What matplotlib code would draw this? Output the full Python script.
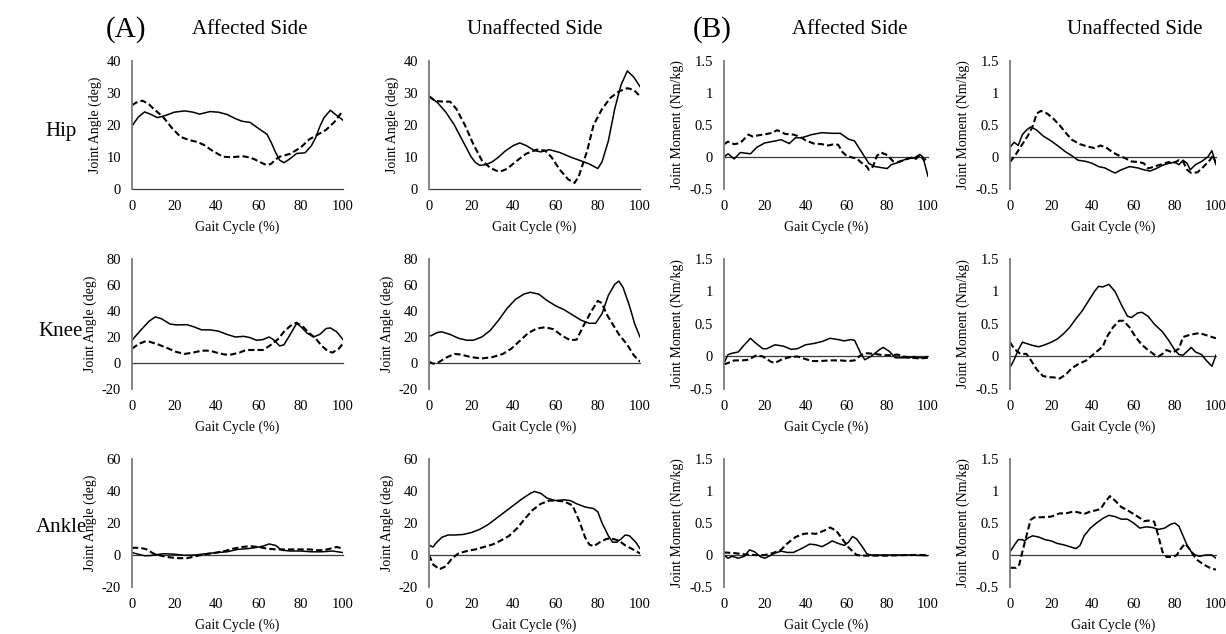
import numpy as np
import matplotlib
matplotlib.use('Agg')
from matplotlib import pyplot as plt

plt.rcParams['font.family'] = ['Liberation Serif', 'DejaVu Serif']
plt.rcParams['axes.unicode_minus'] = False

# (gait cycle %, value); solid and dashed curve per panel
hip_ang_aff_solid = [(0, 19.7), (3, 22.5), (6, 24.1), (9, 23.3), (12, 22.3), (16, 23.0), (20, 24.0), (25, 24.4),
                     (29, 24.0), (32, 23.4), (37, 24.2), (41, 24.0), (45, 23.3), (49, 22.0), (52, 21.2), (56, 20.8),
                     (60, 18.9), (64, 17.1), (66, 14.5), (68, 11.5), (70, 9.0), (72, 8.2), (75, 9.5), (78, 11.1),
                     (82, 11.3), (85, 13.5), (87, 16.0), (89, 19.5), (91, 22.3), (94, 24.6), (97, 23.0), (100, 21.5)]
hip_ang_aff_dash = [(0, 26.2), (2, 27.0), (5, 27.6), (8, 26.5), (10, 25.2), (13, 23.5), (15, 22.3), (19, 19.0),
                    (23, 16.3), (27, 15.3), (31, 14.7), (34, 13.8), (38, 12.0), (43, 10.1), (47, 9.9), (50, 10.1),
                    (53, 10.2), (56, 9.8), (58, 9.3), (62, 8.0), (64, 7.4), (66, 7.9), (68, 9.2), (70, 10.1),
                    (75, 11.0), (80, 13.0), (84, 15.5), (88, 17.0), (92, 18.5), (96, 21.0), (100, 24.5)]
hip_ang_unaff_solid = [(0, 29.0), (4, 27.0), (8, 24.0), (12, 20.0), (16, 15.0), (20, 10.0), (22, 8.3), (24, 7.4),
                       (27, 7.6), (30, 8.5), (33, 10.0), (36, 11.8), (40, 13.6), (43, 14.4), (46, 13.6), (50, 12.0),
                       (53, 11.6), (57, 12.3), (62, 11.4), (67, 10.0), (72, 8.8), (76, 7.8), (80, 6.4), (82, 8.5),
                       (85, 15.0), (88, 25.0), (91, 32.5), (94, 36.9), (97, 35.0), (100, 32.0)]
hip_ang_unaff_dash = [(0, 29.0), (3, 27.5), (7, 27.3), (10, 27.3), (13, 25.0), (17, 20.0), (21, 14.0), (25, 9.0),
                      (29, 6.6), (32, 5.7), (34, 5.5), (37, 6.3), (41, 8.5), (46, 11.0), (51, 12.3), (55, 12.0),
                      (58, 10.0), (62, 6.0), (66, 3.0), (69, 1.9), (71, 4.0), (75, 12.0), (78, 20.0), (82, 25.0),
                      (86, 28.5), (90, 30.5), (94, 31.5), (97, 31.0), (100, 29.0)]

knee_ang_aff_solid = [(0, 17.5), (4, 25.0), (8, 32.0), (11, 35.5), (14, 34.0), (18, 30.0), (21, 29.3), (26, 29.5),
                      (29, 28.0), (33, 25.5), (37, 25.5), (41, 24.5), (45, 22.0), (49, 20.0), (53, 20.5), (56, 19.5),
                      (59, 17.5), (62, 18.0), (65, 20.0), (67, 18.0), (70, 13.1), (72, 14.0), (75, 22.0), (78, 30.4),
                      (80, 28.0), (83, 23.0), (86, 20.0), (89, 22.0), (92, 26.5), (94, 27.0), (97, 24.0), (100, 18.0)]
knee_ang_aff_dash = [(0, 11.0), (3, 14.5), (6, 16.5), (8, 16.5), (12, 14.5), (16, 12.0), (21, 8.5), (25, 7.0),
                     (29, 8.0), (33, 9.5), (37, 9.5), (40, 8.0), (44, 6.5), (47, 6.5), (51, 8.0), (54, 10.0),
                     (58, 10.0), (62, 10.0), (65, 13.0), (69, 18.0), (72, 24.0), (75, 28.5), (78, 31.0), (81, 28.0),
                     (84, 23.0), (87, 19.0), (90, 13.0), (93, 9.0), (95, 8.0), (98, 11.0), (100, 15.0)]
knee_ang_unaff_solid = [(0, 21.0), (1, 21.0), (4, 23.5), (6, 24.0), (10, 22.0), (14, 19.0), (18, 17.5), (21, 17.5),
                        (25, 20.0), (29, 25.0), (33, 33.0), (37, 42.0), (41, 49.0), (45, 53.0), (48, 54.4), (52, 53.0),
                        (56, 48.0), (60, 44.0), (64, 41.0), (68, 37.0), (72, 33.0), (76, 30.5), (79, 30.6), (82, 38.0),
                        (85, 52.0), (88, 60.5), (90, 63.0), (92, 58.0), (95, 44.0), (97.5, 30.0), (100, 20.0)]
knee_ang_unaff_dash = [(0, 1.0), (2, -0.5), (4, 0.0), (8, 4.0), (12, 7.0), (15, 6.5), (20, 4.5), (25, 3.5),
                       (30, 4.5), (35, 7.0), (39, 11.0), (43, 17.0), (47, 23.0), (51, 26.5), (55, 27.5), (59, 26.0),
                       (63, 21.0), (67, 17.5), (70, 18.0), (73, 28.0), (77, 40.0), (80, 47.8), (82, 46.0), (84, 38.0),
                       (87, 30.0), (90, 22.0), (94, 14.0), (97, 6.0), (100, 1.0)]

ankle_ang_aff_solid = [(0, 1.5), (3, 0.5), (6, -0.5), (9, -0.3), (12, 0.3), (15, 0.8), (20, 0.5), (25, -0.2),
                       (30, 0.0), (35, 0.8), (40, 1.5), (45, 2.0), (50, 3.5), (55, 4.0), (58, 4.5), (62, 5.5),
                       (65, 6.9), (68, 6.0), (71, 3.0), (75, 2.5), (80, 2.5), (85, 2.0), (90, 2.0), (95, 2.5), (100, 1.5)]
ankle_ang_aff_dash = [(0, 4.5), (4, 4.5), (7, 3.5), (10, 1.0), (14, -0.5), (18, -1.5), (22, -2.0), (26, -2.0),
                      (31, -0.5), (35, 0.5), (40, 1.5), (44, 2.5), (48, 4.0), (52, 5.0), (56, 5.5), (60, 5.0),
                      (64, 4.0), (68, 3.5), (72, 3.5), (76, 3.5), (80, 3.5), (84, 3.5), (88, 3.0), (91, 3.0),
                      (94, 4.0), (97, 5.0), (100, 4.0)]
ankle_ang_unaff_solid = [(0, 6.0), (2, 5.0), (3, 7.0), (6, 11.0), (9, 12.5), (12, 12.5), (16, 12.8), (20, 14.0),
                         (24, 16.0), (28, 19.0), (32, 23.0), (36, 27.0), (40, 31.0), (44, 35.0), (48, 38.5), (50, 39.7),
                         (53, 38.5), (56, 35.5), (60, 34.0), (64, 34.5), (67, 34.0), (70, 32.0), (74, 30.0), (78, 29.0),
                         (80, 27.0), (82, 20.0), (85, 12.0), (87, 8.0), (89, 8.0), (91, 10.0), (93, 12.5), (95, 12.0),
                         (98, 8.0), (100, 4.0)]
ankle_ang_unaff_dash = [(0, 0.0), (2, -6.0), (5, -8.9), (8, -7.0), (11, -2.0), (14, 1.0), (18, 2.5), (22, 3.5),
                        (26, 5.0), (30, 6.5), (34, 9.0), (38, 12.0), (42, 17.0), (45, 22.0), (49, 28.0), (53, 32.0),
                        (57, 34.0), (60, 34.0), (64, 33.5), (68, 31.0), (71, 22.0), (74, 11.0), (76, 6.5), (78, 5.5),
                        (81, 8.0), (84, 10.0), (86, 10.5), (90, 9.0), (93, 6.0), (96, 4.0), (100, 1.0)]

hip_mom_aff_solid = [(0, 0.0), (2, 0.05), (5, -0.03), (8, 0.07), (13, 0.05), (16, 0.15), (20, 0.22), (25, 0.25),
                     (28, 0.27), (32, 0.21), (35, 0.30), (38, 0.30), (43, 0.35), (48, 0.38), (53, 0.37), (57, 0.37),
                     (61, 0.28), (64, 0.25), (67, 0.10), (71, -0.10), (74, -0.15), (78, -0.17), (80, -0.18),
                     (82, -0.12), (86, -0.08), (90, -0.02), (93, -0.02), (96, 0.04), (97.5, 0.0), (100, -0.30)]
hip_mom_aff_dash = [(0, 0.20), (2, 0.24), (5, 0.20), (8, 0.22), (12, 0.35), (14, 0.32), (17, 0.34), (21, 0.36),
                    (24, 0.38), (26, 0.42), (30, 0.36), (34, 0.35), (37, 0.32), (40, 0.26), (44, 0.21), (48, 0.20),
                    (51, 0.18), (54, 0.20), (56, 0.19), (58, 0.08), (60, 0.02), (63, -0.01), (65, -0.02),
                    (67, -0.08), (70, -0.15), (71, -0.20), (73, -0.15), (75, 0.02), (77, 0.07), (80, 0.03),
                    (83, -0.07), (85, -0.08), (89, -0.04), (92, -0.01), (94, -0.03), (96, 0.03), (98, -0.05), (100, 0.0)]
hip_mom_unaff_solid = [(0, 0.15), (2, 0.23), (4, 0.18), (6, 0.35), (8, 0.42), (10, 0.47), (13, 0.42), (16, 0.33),
                       (20, 0.25), (23, 0.18), (27, 0.08), (30, 0.02), (33, -0.05), (37, -0.07), (40, -0.10),
                       (43, -0.15), (46, -0.17), (49, -0.22), (51, -0.25), (54, -0.20), (58, -0.15), (62, -0.17),
                       (65, -0.20), (68, -0.22), (71, -0.18), (74, -0.13), (77, -0.10), (80, -0.08), (82, -0.12),
                       (84, -0.05), (86, -0.10), (87.5, -0.20), (90, -0.12), (93, -0.07), (96, 0.0), (98, 0.10),
                       (100, -0.12)]
hip_mom_unaff_dash = [(0, -0.08), (3, 0.05), (6, 0.20), (9, 0.35), (11, 0.48), (13, 0.68), (15, 0.72), (18, 0.68),
                      (21, 0.60), (24, 0.50), (27, 0.38), (30, 0.27), (34, 0.20), (38, 0.16), (41, 0.14), (44, 0.18),
                      (47, 0.14), (50, 0.07), (53, 0.02), (56, -0.02), (59, -0.07), (63, -0.08), (65, -0.10),
                      (67, -0.18), (70, -0.15), (73, -0.12), (77, -0.08), (79, -0.10), (82, -0.05), (84, -0.07),
                      (86, -0.20), (88, -0.25), (91, -0.24), (94, -0.15), (97, -0.05), (98.5, 0.02), (100, -0.10)]

knee_mom_aff_solid = [(0, -0.10), (2, 0.03), (4, 0.05), (7, 0.07), (10, 0.18), (13, 0.28), (15, 0.22), (19, 0.12),
                      (21, 0.12), (25, 0.18), (29, 0.16), (33, 0.11), (36, 0.12), (40, 0.18), (44, 0.20), (48, 0.23),
                      (52, 0.28), (56, 0.26), (59, 0.24), (62, 0.26), (64, 0.25), (67, 0.05), (69, -0.05),
                      (72, 0.0), (76, 0.10), (78, 0.14), (81, 0.08), (84, -0.02), (88, -0.02), (91, -0.02),
                      (93, 0.0), (96, -0.02), (100, 0.0)]
knee_mom_aff_dash = [(0, -0.12), (2, -0.10), (5, -0.06), (9, -0.06), (12, -0.05), (16, 0.02), (19, 0.0),
                     (23, -0.08), (25, -0.10), (28, -0.05), (32, -0.01), (36, 0.0), (39, -0.03), (43, -0.07),
                     (47, -0.07), (52, -0.06), (57, -0.06), (61, -0.07), (64, -0.06), (67, 0.02), (70, 0.05),
                     (74, 0.04), (78, 0.02), (82, 0.02), (85, 0.03), (88, 0.0), (92, -0.02), (96, -0.03), (100, -0.02)]
knee_mom_unaff_solid = [(0, -0.17), (2, -0.05), (4, 0.10), (6, 0.22), (8, 0.20), (11, 0.17), (14, 0.15), (17, 0.18),
                        (20, 0.22), (23, 0.27), (26, 0.35), (29, 0.45), (32, 0.58), (35, 0.70), (38, 0.85), (41, 1.00),
                        (43, 1.08), (45, 1.07), (48, 1.11), (51, 1.00), (54, 0.80), (57, 0.62), (59, 0.60), (62, 0.67),
                        (64, 0.68), (67, 0.62), (70, 0.50), (74, 0.38), (77, 0.25), (80, 0.10), (82, 0.03),
                        (84, 0.02), (86, 0.08), (88, 0.14), (90, 0.07), (93, 0.03), (95, -0.05), (98, -0.15), (100, 0.02)]
knee_mom_unaff_dash = [(0, 0.22), (2, 0.12), (5, 0.04), (8, 0.04), (10, -0.05), (13, -0.20), (16, -0.30),
                       (19, -0.32), (21, -0.32), (24, -0.34), (27, -0.28), (30, -0.18), (33, -0.12), (37, -0.06),
                       (40, 0.02), (43, 0.10), (45, 0.15), (47, 0.30), (50, 0.45), (53, 0.55), (55, 0.55), (58, 0.45),
                       (61, 0.30), (64, 0.18), (67, 0.10), (70, 0.03), (72, 0.0), (74, 0.04), (76, 0.10), (79, 0.06),
                       (82, 0.12), (84, 0.30), (87, 0.33), (90, 0.35), (92, 0.36), (95, 0.33), (98, 0.30), (100, 0.28)]

ankle_mom_aff_solid = [(0, 0.0), (2, -0.05), (4, -0.02), (7, -0.05), (10, -0.02), (12.5, 0.08), (15, 0.05),
                       (18, -0.03), (20, -0.05), (22, -0.02), (25, 0.03), (28, 0.06), (31, 0.04), (34, 0.04),
                       (38, 0.10), (42, 0.17), (45, 0.16), (48, 0.13), (51, 0.18), (53, 0.22), (56, 0.18), (59, 0.15),
                       (61, 0.20), (63, 0.29), (65, 0.25), (68, 0.12), (70, 0.02), (72, 0.0), (80, 0.0), (90, 0.0),
                       (100, -0.01)]
ankle_mom_aff_dash = [(0, 0.04), (5, 0.03), (10, 0.01), (15, 0.0), (20, 0.0), (24, 0.03), (28, 0.08), (31, 0.18),
                      (35, 0.28), (39, 0.33), (42, 0.34), (45, 0.33), (49, 0.38), (52, 0.43), (55, 0.38), (58, 0.25),
                      (61, 0.12), (65, 0.0), (68, -0.01), (75, -0.01), (80, -0.01), (90, 0.0), (100, 0.0)]
ankle_mom_unaff_solid = [(0, 0.05), (2, 0.15), (4, 0.24), (6, 0.24), (7, 0.22), (9, 0.27), (11, 0.30), (14, 0.28),
                         (17, 0.24), (20, 0.22), (23, 0.18), (26, 0.16), (29, 0.13), (32, 0.10), (34, 0.15),
                         (36, 0.30), (39, 0.42), (42, 0.50), (45, 0.57), (48, 0.62), (51, 0.60), (54, 0.56),
                         (57, 0.56), (60, 0.50), (63, 0.42), (66, 0.44), (69, 0.43), (72, 0.40), (75, 0.42),
                         (78, 0.48), (80, 0.50), (82, 0.45), (84, 0.30), (86, 0.15), (88, 0.05), (90, 0.0),
                         (92, -0.02), (95, 0.0), (98, 0.0), (100, -0.05)]
ankle_mom_unaff_dash = [(0, -0.20), (3, -0.20), (4.5, -0.15), (6, 0.05), (8, 0.30), (10, 0.55), (12, 0.59),
                        (16, 0.59), (20, 0.60), (24, 0.65), (27, 0.65), (31, 0.68), (34, 0.66), (36, 0.64),
                        (39, 0.68), (42, 0.70), (44, 0.72), (46, 0.82), (48.5, 0.92), (51, 0.85), (54, 0.75),
                        (57, 0.70), (60, 0.64), (63, 0.58), (65, 0.53), (68, 0.54), (70, 0.52), (72, 0.30),
                        (74, 0.05), (76, -0.03), (79, -0.03), (81, 0.0), (83, 0.10), (85, 0.18), (87, 0.10),
                        (89, 0.0), (91, -0.08), (94, -0.15), (97, -0.20), (100, -0.23)]

x_ticks = [0, 20, 40, 60, 80, 100]
ang_ticks = {'Hip': [0, 10, 20, 30, 40], 'Knee': [-20, 0, 20, 40, 60, 80], 'Ankle': [-20, 0, 20, 40, 60]}
mom_ticks = [-0.5, 0, 0.5, 1, 1.5]
mom_tick_labels = ['-0.5', '0', '0.5', '1', '1.5']
joints = ['Hip', 'Knee', 'Ankle']
side_titles = ['Affected Side', 'Unaffected Side', 'Affected Side', 'Unaffected Side']

panels = [
    [hip_ang_aff_solid, hip_ang_aff_dash, hip_ang_unaff_solid, hip_ang_unaff_dash,
     hip_mom_aff_solid, hip_mom_aff_dash, hip_mom_unaff_solid, hip_mom_unaff_dash],
    [knee_ang_aff_solid, knee_ang_aff_dash, knee_ang_unaff_solid, knee_ang_unaff_dash,
     knee_mom_aff_solid, knee_mom_aff_dash, knee_mom_unaff_solid, knee_mom_unaff_dash],
    [ankle_ang_aff_solid, ankle_ang_aff_dash, ankle_ang_unaff_solid, ankle_ang_unaff_dash,
     ankle_mom_aff_solid, ankle_mom_aff_dash, ankle_mom_unaff_solid, ankle_mom_unaff_dash],
]

W, H = 1226, 634
fig = plt.figure(figsize=(W / 100, H / 100), dpi=100)

col_left = [132, 429, 724, 1010]
col_width = [211, 211, 204, 206]
row_top = [61, 259, 459]
row_bottom = [189, 389, 587]

for r in range(3):
    for c in range(4):
        ax = fig.add_axes([col_left[c] / W, 1 - row_bottom[r] / H,
                           col_width[c] / W, (row_bottom[r] - row_top[r]) / H])
        solid = np.array(panels[r][2 * c])
        dash = np.array(panels[r][2 * c + 1])
        ax.plot(solid[:, 0], solid[:, 1], color='black', linewidth=1.1, solid_joinstyle='round')
        ax.plot(dash[:, 0], dash[:, 1], color='black', linewidth=1.5, linestyle=(0, (3, 1.5)))
        ax.axhline(0, color='#3a3a3a', linewidth=0.9, zorder=0, clip_on=False)
        ax.set_xlim(0, 100)
        ax.set_xticks(x_ticks)
        if c < 2:
            t = ang_ticks[joints[r]]
            ax.set_ylim(t[0], t[-1])
            ax.set_yticks(t)
            ax.set_ylabel('Joint Angle (deg)', fontsize=10, labelpad=3)
        else:
            ax.set_ylim(-0.5, 1.5)
            ax.set_yticks(mom_ticks)
            ax.set_yticklabels(mom_tick_labels)
            ax.set_ylabel('Joint Moment (Nm/kg)', fontsize=10, labelpad=4)
        ax.set_xlabel('Gait Cycle (%)', fontsize=10, labelpad=5)
        for s in ['top', 'right', 'bottom']:
            ax.spines[s].set_visible(False)
        ax.spines['left'].set_color('#7a7a7a')
        ax.spines['left'].set_linewidth(1.3)
        ax.tick_params(length=0, labelsize=10.5, pad=8)
        ax.patch.set_alpha(0)

# column titles and panel tags
title_x = [250, 535, 850, 1135]
for c in range(4):
    fig.text(title_x[c] / W, 1 - 30 / H, side_titles[c], fontsize=15, ha='center', va='center')
fig.text(126 / W, 1 - 30 / H, '(A)', fontsize=21, ha='center', va='center')
fig.text(712 / W, 1 - 30 / H, '(B)', fontsize=21, ha='center', va='center')

row_y = [131, 331, 528]
for r in range(3):
    fig.text(61 / W, 1 - row_y[r] / H, joints[r], fontsize=15, ha='center', va='center')

fig.savefig('out.png', dpi=100)
